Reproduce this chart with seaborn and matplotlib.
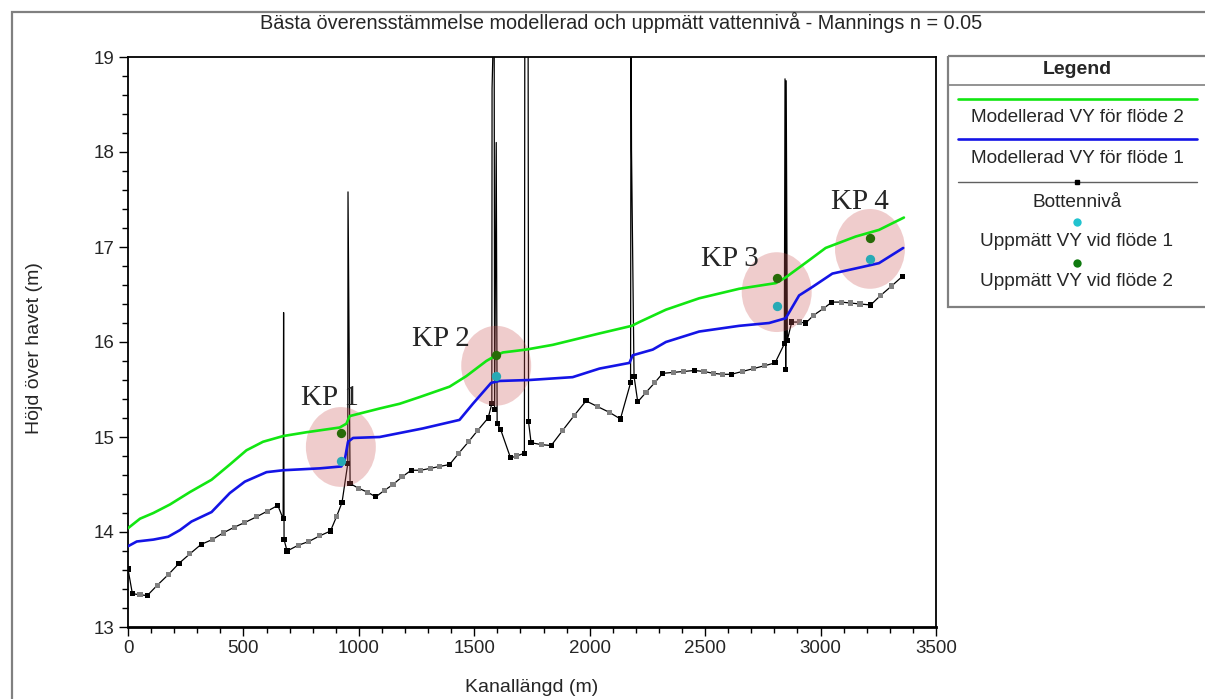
import matplotlib
matplotlib.use('Agg')
import matplotlib.pyplot as plt
from matplotlib.patches import Ellipse, Rectangle
from matplotlib.lines import Line2D
from matplotlib.ticker import MultipleLocator
import pandas as pd
import seaborn as sns

# Bottennivå längs kanalen (de lodräta spikarna är broar/trummor i profilen)
botten_x = [0, 19, 52, 83, 127, 174, 221, 268, 317, 365, 412, 460, 506, 557, 604, 649,
            672, 674, 676, 689, 737, 783, 831, 877, 903, 927, 952, 953, 962, 999, 1037,
            1073, 1112, 1148, 1187, 1227, 1268, 1310, 1350, 1393, 1433, 1475, 1515, 1560,
            1576, 1577, 1586, 1588, 1595, 1599, 1614, 1657, 1684, 1717, 1719, 1733, 1735,
            1746, 1790, 1833, 1883, 1934, 1984, 2034, 2085, 2133, 2177, 2179, 2181, 2192,
            2208, 2244, 2281, 2316, 2362, 2407, 2453, 2495, 2535, 2575, 2613, 2662, 2709,
            2757, 2803, 2843, 2846, 2849, 2851, 2856, 2875, 2907, 2936, 2969, 3011, 3049,
            3089, 3131, 3171, 3217, 3260, 3308, 3354]
botten_y = [13.61, 13.35, 13.34, 13.33, 13.44, 13.55, 13.67, 13.77, 13.87, 13.92, 13.99,
            14.05, 14.10, 14.16, 14.22, 14.28, 14.14, 16.31, 13.92, 13.80, 13.86, 13.90,
            13.96, 14.01, 14.16, 14.31, 14.72, 17.58, 14.51, 14.46, 14.42, 14.37, 14.44,
            14.50, 14.58, 14.65, 14.65, 14.67, 14.69, 14.71, 14.83, 14.95, 15.07, 15.20,
            15.35, 18.67, 19.60, 15.29, 18.10, 15.14, 15.08, 14.78, 14.80, 14.83, 19.60,
            19.60, 15.16, 14.94, 14.92, 14.91, 15.07, 15.23, 15.38, 15.32, 15.26, 15.19,
            15.57, 19.60, 18.02, 15.64, 15.37, 15.47, 15.57, 15.67, 15.68, 15.69, 15.70,
            15.69, 15.67, 15.66, 15.66, 15.69, 15.72, 15.75, 15.78, 15.98, 18.77, 15.71,
            18.75, 16.02, 16.21, 16.21, 16.20, 16.28, 16.35, 16.42, 16.42, 16.41, 16.40,
            16.39, 16.49, 16.59, 16.69]
# nod = svart punkt, mellan = grå punkt, ingen = utan markör
botten_typ = ['nod', 'nod', 'mellan', 'nod', 'mellan', 'mellan', 'nod', 'mellan', 'nod',
              'mellan', 'mellan', 'mellan', 'mellan', 'mellan', 'mellan', 'nod', 'nod',
              'ingen', 'nod', 'nod', 'mellan', 'mellan', 'mellan', 'nod', 'mellan', 'nod',
              'nod', 'ingen', 'nod', 'mellan', 'mellan', 'nod', 'mellan', 'mellan', 'mellan',
              'nod', 'mellan', 'mellan', 'mellan', 'nod', 'mellan', 'mellan', 'mellan', 'nod',
              'nod', 'ingen', 'ingen', 'nod', 'ingen', 'nod', 'nod', 'nod', 'mellan', 'nod',
              'ingen', 'ingen', 'nod', 'nod', 'mellan', 'nod', 'mellan', 'mellan', 'nod',
              'mellan', 'mellan', 'nod', 'nod', 'ingen', 'ingen', 'nod', 'nod', 'mellan',
              'mellan', 'nod', 'mellan', 'mellan', 'nod', 'mellan', 'mellan', 'mellan', 'nod',
              'mellan', 'mellan', 'mellan', 'nod', 'nod', 'ingen', 'nod', 'ingen', 'nod',
              'nod', 'mellan', 'nod', 'mellan', 'mellan', 'nod', 'mellan', 'mellan', 'mellan',
              'nod', 'mellan', 'mellan', 'nod']

# Modellerad vattenyta, flöde 2 (grön) och flöde 1 (blå)
vy2_x = [0, 52, 110, 182, 268, 362, 441, 513, 585, 672, 773, 917, 946, 960, 1090, 1177,
         1263, 1393, 1465, 1552, 1595, 1624, 1724, 1840, 2042, 2182, 2215, 2330, 2474,
         2647, 2806, 2849, 2950, 3022, 3152, 3253, 3361]
vy2_y = [14.04, 14.14, 14.20, 14.29, 14.42, 14.55, 14.71, 14.86, 14.95, 15.01, 15.05,
         15.10, 15.14, 15.22, 15.30, 15.35, 15.42, 15.53, 15.64, 15.80, 15.86, 15.89,
         15.92, 15.97, 16.09, 16.17, 16.21, 16.34, 16.46, 16.56, 16.62, 16.68, 16.86,
         16.99, 17.11, 17.18, 17.31]
vy1_x = [0, 38, 110, 174, 225, 275, 362, 441, 506, 600, 672, 831, 924, 939, 953, 975,
         1090, 1277, 1436, 1494, 1573, 1609, 1739, 1926, 2042, 2172, 2186, 2273, 2330,
         2474, 2647, 2777, 2849, 2907, 2965, 3051, 3181, 3253, 3358]
vy1_y = [13.85, 13.90, 13.92, 13.95, 14.02, 14.11, 14.21, 14.41, 14.53, 14.63, 14.65,
         14.67, 14.69, 14.76, 14.95, 14.99, 15.00, 15.09, 15.18, 15.35, 15.57, 15.59,
         15.60, 15.63, 15.72, 15.78, 15.86, 15.92, 16.00, 16.11, 16.17, 16.20, 16.25,
         16.49, 16.58, 16.72, 16.79, 16.83, 16.99]

# Uppmätta vattennivåer vid kontrollpunkterna
kp_namn = ['KP 1', 'KP 2', 'KP 3', 'KP 4']
kp_x = [922, 1595, 2810, 3214]
uppm_vy1 = [14.75, 15.64, 16.38, 16.87]
uppm_vy2 = [15.04, 15.86, 16.67, 17.09]

GRON = '#12e612'
BLA = '#1414e6'
TURKOS = '#27aab5'
MORKGRON = '#276b08'

sns.set_style('ticks')
plt.rcParams['font.family'] = ['Liberation Sans', 'DejaVu Sans']

fig = plt.figure(figsize=(12.05, 6.99), dpi=100)
W, H = 1205, 699
ax = fig.add_axes([128 / W, 1 - 627 / H, (936 - 128) / W, (627 - 57) / H])

botten = pd.DataFrame({'x': botten_x, 'y': botten_y, 'typ': botten_typ})
sns.lineplot(data=botten, x='x', y='y', sort=False, estimator=None, color='black',
             lw=0.9, ax=ax, zorder=2)
sns.scatterplot(data=botten[botten['typ'] != 'ingen'], x='x', y='y', hue='typ',
                palette={'nod': 'black', 'mellan': '#808080'}, marker='s', s=14,
                linewidth=0, legend=False, ax=ax, zorder=2.5)

# rosa markeringar runt kontrollpunkterna
ell_b, ell_h = 303, 0.84
for x, y1, y2 in zip(kp_x, uppm_vy1, uppm_vy2):
    ax.add_patch(Ellipse((x, (y1 + y2) / 2), ell_b, ell_h, facecolor='#cd5858',
                         alpha=0.3, edgecolor='none', zorder=3))

sns.lineplot(x=vy2_x, y=vy2_y, sort=False, estimator=None, color=GRON, lw=1.9,
             ax=ax, zorder=4)
sns.lineplot(x=vy1_x, y=vy1_y, sort=False, estimator=None, color=BLA, lw=1.9,
             ax=ax, zorder=4)
sns.scatterplot(x=kp_x, y=uppm_vy1, color=TURKOS, s=45, linewidth=0, ax=ax, zorder=5)
sns.scatterplot(x=kp_x, y=uppm_vy2, color=MORKGRON, s=45, linewidth=0, ax=ax, zorder=5)

# KP-etiketter ovanför markeringarna
forskj = [(-11, 2), (-55, -20), (-47, -14), (-10, 0)]
for namn, x, y1, y2, (dx, dy) in zip(kp_namn, kp_x, uppm_vy1, uppm_vy2, forskj):
    ax.annotate(namn, xy=(x, (y1 + y2) / 2 + ell_h / 2), xytext=(dx, dy),
                textcoords='offset pixels', ha='center', va='baseline',
                fontsize=21, family='Liberation Serif', zorder=6)

ax.set_xlim(0, 3500)
ax.set_ylim(13, 19)
ax.xaxis.set_major_locator(MultipleLocator(500))
ax.xaxis.set_minor_locator(MultipleLocator(100))
ax.yaxis.set_major_locator(MultipleLocator(1))
ax.yaxis.set_minor_locator(MultipleLocator(0.2))
ax.tick_params(which='major', direction='out', length=6.5, width=1, labelsize=13.5,
               pad=3, color='black')
ax.tick_params(which='minor', direction='out', length=4.3, width=1, color='black')
for sp in ax.spines.values():
    sp.set_visible(True)
    sp.set_color('black')
    sp.set_linewidth(1.3)
ax.spines['bottom'].set_linewidth(2)

ax.set_xlabel('Kanallängd (m)', fontsize=14, va='center')
ax.set_ylabel('Höjd över havet (m)', fontsize=14, va='center')
ax.xaxis.set_label_coords(0.5, -0.107)
ax.yaxis.set_label_coords(-0.116, 0.49)

fig.text(621 / W, 1 - 29 / H, 'Bästa överensstämmelse modellerad och uppmätt vattennivå - '
         'Mannings n = 0.05', ha='center', va='baseline', fontsize=14.3)

# yttre ram
fig.add_artist(Rectangle((12 / W, -0.1), 1.2, 1.1 - 12 / H, transform=fig.transFigure,
                         fill=False, edgecolor='#808080', lw=1.6, clip_on=False))

# teckenförklaring, ritad i pixelkoordinater
lax = fig.add_axes([948 / W, 1 - 307 / H, 262 / W, 251 / H])
lax.set_xlim(0, 262)
lax.set_ylim(251, 0)
lax.axis('off')
lax.add_patch(Rectangle((0, 0), 262, 251, fill=False, edgecolor='#808080', lw=1.6,
                        clip_on=False))
lax.plot([0, 262], [29, 29], color='#808080', lw=1.2, clip_on=False)
lax.text(129, 14, 'Legend', ha='center', va='center', fontsize=14, fontweight='bold')
lax.add_line(Line2D([10, 249], [42.7, 42.7], color=GRON, lw=1.9))
lax.text(129, 62, 'Modellerad VY för flöde 2', ha='center', va='center', fontsize=13.7)
lax.add_line(Line2D([10, 249], [83.5, 83.5], color=BLA, lw=1.9))
lax.text(129, 103, 'Modellerad VY för flöde 1', ha='center', va='center', fontsize=13.7)
lax.add_line(Line2D([10, 249], [126, 126], color='#606060', lw=1))
lax.plot([129], [126], 's', color='black', ms=3)
lax.text(129, 147, 'Bottennivå', ha='center', va='center', fontsize=13.7)
lax.plot([129], [166], 'o', color='#22c3cf', ms=6, mew=0)
lax.text(129, 186, 'Uppmätt VY vid flöde 1', ha='center', va='center', fontsize=13.7)
lax.plot([129], [207.5], 'o', color='#0f7a0f', ms=6, mew=0)
lax.text(129, 226, 'Uppmätt VY vid flöde 2', ha='center', va='center', fontsize=13.7)

fig.savefig('out.png', dpi=100)
